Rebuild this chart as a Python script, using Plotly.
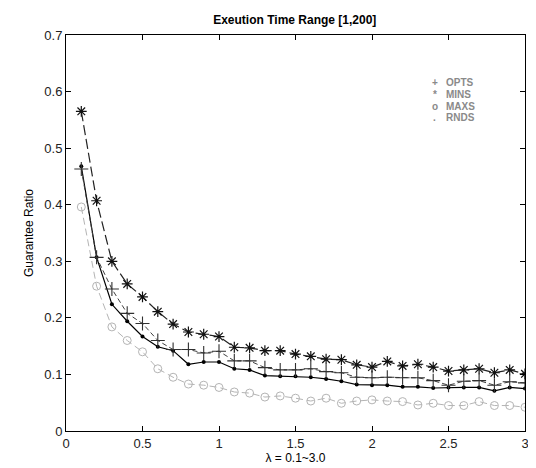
import plotly.graph_objects as go

lam = [round(0.1 * i, 1) for i in range(1, 31)]

mins = [0.565, 0.407, 0.300, 0.260, 0.237, 0.211, 0.189, 0.175, 0.171, 0.167,
        0.148, 0.147, 0.142, 0.142, 0.136, 0.132, 0.127, 0.126, 0.117, 0.113,
        0.123, 0.115, 0.118, 0.113, 0.106, 0.108, 0.110, 0.103, 0.108, 0.101]
opts = [0.463, 0.307, 0.251, 0.208, 0.190, 0.160, 0.144, 0.144, 0.138, 0.141,
        0.124, 0.124, 0.112, 0.108, 0.108, 0.110, 0.105, 0.103, 0.095, 0.094,
        0.095, 0.094, 0.094, 0.089, 0.081, 0.088, 0.089, 0.081, 0.087, 0.085]
rnds = [0.468, 0.307, 0.224, 0.194, 0.167, 0.149, 0.142, 0.118, 0.122, 0.122,
        0.110, 0.108, 0.098, 0.097, 0.097, 0.095, 0.092, 0.088, 0.082, 0.081,
        0.081, 0.078, 0.078, 0.076, 0.077, 0.077, 0.077, 0.071, 0.077, 0.075]
maxs = [0.396, 0.256, 0.184, 0.160, 0.140, 0.110, 0.095, 0.083, 0.081, 0.077,
        0.069, 0.067, 0.060, 0.062, 0.058, 0.053, 0.058, 0.049, 0.053, 0.055,
        0.053, 0.052, 0.046, 0.049, 0.045, 0.045, 0.052, 0.045, 0.045, 0.042]

legend_marks = ["+", "*", "o", "."]
legend_names = ["OPTS", "MINS", "MAXS", "RNDS"]

x_ticks = [0, 0.5, 1, 1.5, 2, 2.5, 3]
x_tick_text = ["0", "0.5", "1", "1.5", "2", "2.5", "3"]
y_ticks = [0, 0.1, 0.2, 0.3, 0.4, 0.5, 0.6, 0.7]
y_tick_text = ["0", "0.1", "0.2", "0.3", "0.4", "0.5", "0.6", "0.7"]

fig = go.Figure()

fig.add_trace(go.Scatter(
    x=lam, y=maxs, mode="lines+markers", name="MAXS",
    line=dict(color="#b4b4b4", width=1, dash="7px,4px"),
    marker=dict(symbol="circle-open", size=8, color="#b4b4b4", line=dict(width=1, color="#b4b4b4"))))
fig.add_trace(go.Scatter(
    x=lam, y=rnds, mode="lines+markers", name="RNDS",
    line=dict(color="#000000", width=1.2),
    marker=dict(symbol="circle", size=4, color="#000000")))
fig.add_trace(go.Scatter(
    x=lam, y=opts, mode="lines+markers", name="OPTS",
    line=dict(color="#404040", width=1, dash="5px,3px"),
    marker=dict(symbol="cross-thin-open", size=10, color="#303030", line=dict(width=1.1, color="#303030"))))
fig.add_trace(go.Scatter(
    x=lam, y=mins, mode="lines+markers", name="MINS",
    line=dict(color="#222222", width=1.2, dash="10px,4px"),
    marker=dict(symbol="asterisk-open", size=9, color="#111111", line=dict(width=1.2, color="#111111"))))

for i, (m, n) in enumerate(zip(legend_marks, legend_names)):
    y = 0.879 - i * 0.0295
    fig.add_annotation(x=0.803, y=y, xref="paper", yref="paper", text="<b>" + m + "</b>",
                       showarrow=False, xanchor="center", yanchor="middle",
                       font=dict(family="Liberation Sans, Arial", size=10, color="#8a8a8a"))
    fig.add_annotation(x=0.824, y=y, xref="paper", yref="paper", text="<b>" + n + "</b>",
                       showarrow=False, xanchor="left", yanchor="middle",
                       font=dict(family="Liberation Sans, Arial", size=10, color="#8a8a8a"))

fig.update_layout(
    width=536, height=468,
    margin=dict(l=58, r=19, t=27, b=45),
    paper_bgcolor="white", plot_bgcolor="white",
    showlegend=False,
    title=dict(text="<b>Exeution Time Range [1,200]</b>", x=0.535, xanchor="center",
               y=0.975, yanchor="middle",
               font=dict(family="Liberation Sans, Arial", size=12, color="#000")),
    font=dict(family="Liberation Sans, Arial", size=12, color="#000"),
)
fig.update_xaxes(
    range=[0, 3], tickvals=x_ticks, ticktext=x_tick_text,
    showgrid=False, zeroline=False, showline=True, linecolor="#000", linewidth=1,
    mirror="ticks", ticks="inside", ticklen=5, tickcolor="#000",
    title=dict(text="λ = 0.1~3.0", standoff=4, font=dict(size=12)),
    tickfont=dict(size=13, color="#222"))
fig.update_yaxes(
    range=[0, 0.7], tickvals=y_ticks, ticktext=y_tick_text,
    showgrid=False, zeroline=False, showline=True, linecolor="#000", linewidth=1,
    mirror="ticks", ticks="inside", ticklen=5, tickcolor="#000",
    title=dict(text="Guarantee Ratio", standoff=8, font=dict(size=12)),
    tickfont=dict(size=13, color="#222"))

fig.write_html("out.html")
